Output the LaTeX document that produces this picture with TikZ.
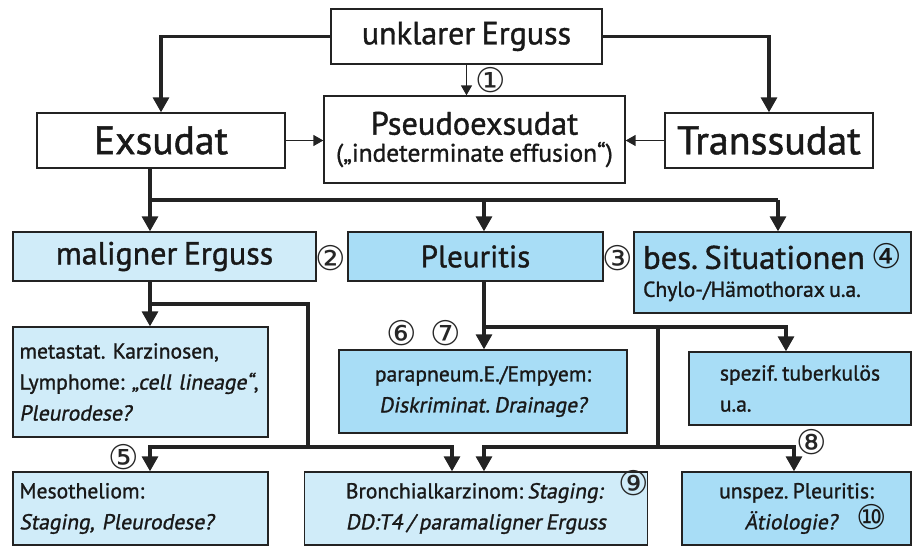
\documentclass[tikz,border=0pt]{standalone}
\usepackage{fontspec}
\setmainfont{PT Sans}[WordSpace=0.75, UprightFeatures={FakeBold=1.2}, ItalicFont={PT Sans}, ItalicFeatures={FakeSlant=0.18, FakeBold=1.2}]
\newfontfamily\circfont{DejaVu Sans}
\usetikzlibrary{arrows.meta, positioning}

\definecolor{lightblue}{RGB}{208,236,249}
\definecolor{midblue}{RGB}{168,221,246}
\definecolor{linegray}{RGB}{35,35,35}

\tikzset{
	box/.style={draw=linegray, line width=0.65pt, inner sep=0pt, text=black!90},
	lbox/.style={box, fill=lightblue},
	dbox/.style={box, fill=midblue},
	trunk/.style={line width=1.6pt, draw=linegray},
	mainarr/.style={trunk, -{Triangle[length=7.5pt,width=8pt]}},
	thinarr/.style={line width=0.7pt, draw=linegray, -{Triangle[length=5pt,width=5.5pt]}},
	num/.style={font=\circfont\fontsize{17}{17}\selectfont, inner sep=0pt, text=black!85}
}
\newcommand{\cnum}[1]{{\circfont\fontsize{17}{17}\selectfont #1}}
\frenchspacing

\begin{document}
\begin{tikzpicture}[x=0.5pt, y=-0.5pt]
	\useasboundingbox (0,0) rectangle (912,551);

	% top level
	\node[box, minimum width=135.5pt, minimum height=27.5pt, font=\fontsize{16}{16}\selectfont] (unklar) at (466.5,36.5) {unklarer Erguss};
	\node[box, minimum width=124pt, minimum height=27.5pt, font=\fontsize{19.8}{19.8}\selectfont] (exsudat) at (161,140.5) {Exsudat};
	\node[box, minimum width=150.5pt, minimum height=43.5pt, align=center, font=\fontsize{12.7}{13.5}\selectfont] (pseudo) at (474.5,139.5)
		{{\fontsize{16.2}{16.2}\selectfont Pseudoexsudat}\\(„indeterminate effusion“)};
	\node[box, minimum width=104pt, minimum height=27.5pt, font=\fontsize{20}{20}\selectfont] (trans) at (769,140.5) {Transsudat};

	% second level
	\node[lbox, minimum width=151.5pt, minimum height=24.5pt, font=\fontsize{16}{16}\selectfont] (malign) at (164.5,256.5) {maligner Erguss};
	\node[dbox, minimum width=127.5pt, minimum height=24.5pt, font=\fontsize{15.5}{15.5}\selectfont] (pleur) at (475.5,256.5) {Pleuritis};
	\node[dbox, minimum width=138.5pt, minimum height=40.5pt, align=left, font=\fontsize{10.8}{14}\selectfont] (bes) at (772.5,272.5)
		{{\fontsize{16.3}{16.3}\selectfont bes. Situationen \cnum{④}}\\Chylo-/Hämothorax u.a.};

	% third level
	\node[lbox, minimum width=127.5pt, minimum height=55pt, text width=121pt, align=left, font=\fontsize{10.8}{15.5}\selectfont] (metast) at (140.5,382)
		{metastat. Karzinosen,\\Lymphome: \textit{„cell lineage“},\\\textit{Pleurodese?}};
	\node[dbox, minimum width=144pt, minimum height=41.5pt, align=center, font=\fontsize{10.8}{15.5}\selectfont] (parap) at (483,391.5)
		{parapneum.E./Empyem:\\\textit{Diskriminat. Drainage?}};
	\node[dbox, minimum width=111pt, minimum height=36.5pt, align=left, font=\fontsize{10.8}{15.5}\selectfont] (spezif) at (800,388.5)
		{spezif. tuberkulös\\u.a.};

	% bottom level
	\node[lbox, minimum width=127.5pt, minimum height=36.5pt, text width=121pt, align=left, font=\fontsize{10.8}{15.5}\selectfont] (meso) at (140.5,508.5)
		{Mesotheliom:\\\textit{Staging, Pleurodese?}};
	\node[lbox, minimum width=171.5pt, minimum height=36.5pt, align=left, font=\fontsize{10.8}{15.5}\selectfont] (bronch) at (476,508.5)
		{Bronchialkarzinom: \textit{Staging:}\\\textit{DD:T4 / paramaligner Erguss}};
	\node[dbox, minimum width=114.5pt, minimum height=36.5pt, align=center, font=\fontsize{10.8}{15.5}\selectfont] (unspez) at (796.5,508.5)
		{unspez. Pleuritis:\\\hspace*{1.8em}\textit{Ätiologie?}\hspace{0.9em}\cnum{⑩}};

	% numbers
	\node[num] (n1) at (491,80) {①};
	\node[num] (n2) at (331,258) {②};
	\node[num] (n3) at (618,258) {③};
	\node[num] (n5) at (124,457) {⑤};
	\node[num] (n6) at (402,333) {⑥};
	\node[num] (n7) at (446,333) {⑦};
	\node[num] (n8) at (812,442) {⑧};
	\node[num] (n9) at (634,483) {⑨};

	% junctions
	\coordinate (jE) at (150,200);
	\coordinate (jP) at (484,200);
	\coordinate (jB) at (778,200);
	\coordinate (jM) at (150,304);
	\coordinate (jM2) at (308,304);
	\coordinate (jM3) at (308,447);
	\coordinate (jBr1) at (452,447);
	\coordinate (jQ) at (484,327);
	\coordinate (jQ2) at (786,327);
	\coordinate (jQ3) at (658,327);
	\coordinate (jQ4) at (658,447);
	\coordinate (jBr2) at (484,447);
	\coordinate (jU) at (794,447);

	% connectors
	\draw[mainarr] (unklar.west) -| (exsudat.north);
	\draw[mainarr] (unklar.east) -| (trans.north);
	\draw[thinarr] (unklar.south) -- (unklar.south |- pseudo.north);
	\draw[thinarr] (exsudat.east) -- (exsudat.east -| pseudo.west);
	\draw[thinarr] (trans.west) -- (trans.west -| pseudo.east);

	\draw[trunk] (exsudat.south -| jE) -- (jE) -- (jB);
	\draw[mainarr] (jE) -- (jE |- malign.north);
	\draw[mainarr] (jP) -- (jP |- pleur.north);
	\draw[mainarr] (jB) -- (jB |- bes.north);

	\draw[mainarr] (malign.south -| jM) -- (jM |- metast.north);
	\draw[trunk] (jM) -- (jM2) -- (jM3);
	\draw[mainarr] (jM3) -| (jM |- meso.north);
	\draw[mainarr] (jM3) -- (jBr1) -- (jBr1 |- bronch.north);

	\draw[mainarr] (pleur.south -| jQ) -- (jQ |- parap.north);
	\draw[mainarr] (jQ) -- (jQ2) -- (jQ2 |- spezif.north);
	\draw[trunk] (jQ3) -- (jQ4);
	\draw[mainarr] (jQ4) -- (jBr2) -- (jBr2 |- bronch.north);
	\draw[mainarr] (jQ4) -- (jU) -- (jU |- unspez.north);
\end{tikzpicture}
\end{document}
